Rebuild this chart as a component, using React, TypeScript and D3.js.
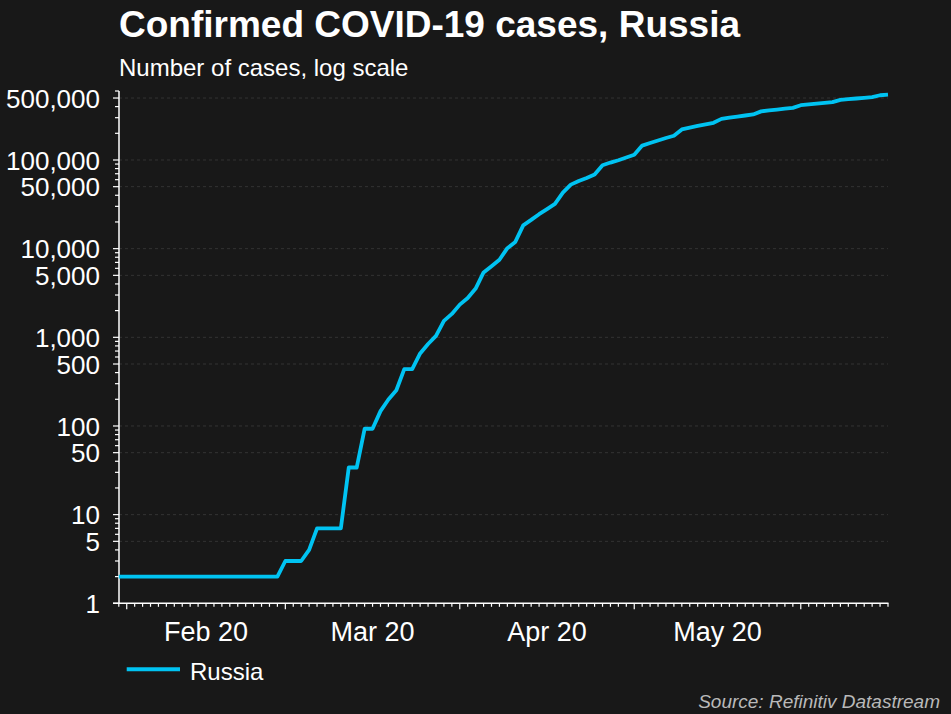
import React from "react";
import * as d3 from "d3";

// ---- data (business days starting 2020-01-31) ----
const startDate = "2020-01-31";
const russiaCases: number[] = [
  2, 2, 2, 2, 2, 2, 2, 2, 2, 2, 2, 2, 2, 2, 2, 2, 2, 2, 2, 2, 2,
  3, 3, 3, 4, 7, 7, 7, 7, 34, 34, 93, 93, 147, 199, 253, 438, 438, 658, 840, 1036,
  1534, 1836, 2337, 2777, 3548, 5389, 6343, 7497, 10131, 11917,
  18328, 21102, 24490, 27938, 32008, 42853, 52763, 57999, 62773, 68622,
  87147, 93558, 99399, 106498, 114431, 145268, 155370, 165929, 177160, 187859,
  221344, 232243, 242271, 252245, 262843, 290678, 299941, 308705, 317554, 326448,
  353427, 362342, 370680, 379051, 387623, 414878, 423741, 432277, 440538, 449256,
  476658, 485253, 493657, 502436, 511423, 537210, 545458,
];
const monthLabels = ["Feb 20", "Mar 20", "Apr 20", "May 20"];
const yLabelValues = [1, 5, 10, 50, 100, 500, 1000, 5000, 10000, 50000, 100000, 500000];
const seriesName = "Russia";
const title = "Confirmed COVID-19 cases, Russia";
const subtitle = "Number of cases, log scale";
const source = "Source: Refinitiv Datastream";

// business-day dates for each value
function businessDays(start: string, n: number): Date[] {
  const out: Date[] = [];
  const d = new Date(start + "T00:00:00");
  while (out.length < n) {
    const wd = d.getDay();
    if (wd !== 0 && wd !== 6) out.push(new Date(d));
    d.setDate(d.getDate() + 1);
  }
  return out;
}

const W = 951;
const H = 714;
const BG = "#181818";
const LINE = "#00c3f2";

export default function App() {
  const n = russiaCases.length;
  const dates = businessDays(startDate, n);
  const x = d3.scaleLinear().domain([0, n - 1]).range([118.8, 888]);
  const y = d3.scaleLog().domain([1, 600000]).range([603.3, 91]);

  const line = d3
    .line<number>()
    .x((_, i) => x(i))
    .y((v) => y(v));

  // month starts: first business day of each month
  const monthStarts: number[] = [];
  dates.forEach((d, i) => {
    if (i > 0 && d.getMonth() !== dates[i - 1].getMonth()) monthStarts.push(i);
  });

  // y ticks
  const yTicks: { v: number; major: boolean }[] = [];
  for (let k = 0; k <= 5; k++) {
    for (let m = 1; m <= 9; m++) {
      const v = m * Math.pow(10, k);
      if (v <= 600000) yTicks.push({ v, major: yLabelValues.includes(v) });
    }
  }
  const fmt = d3.format(",");
  const font = "'Liberation Sans', Arial, sans-serif";
  const axisX = 119;
  const axisY = 603.3;

  return (
    <svg
      width={W}
      height={H}
      style={{ position: "absolute", left: 0, top: 0, display: "block" }}
      fontFamily={font}
    >
      <rect x={0} y={0} width={W} height={H} fill={BG} />
      {/* grid */}
      {yLabelValues
        .filter((v) => v > 1)
        .map((v) => (
          <line
            key={"g" + v}
            x1={axisX}
            x2={888}
            y1={y(v)}
            y2={y(v)}
            stroke="#333333"
            strokeWidth={1}
            strokeDasharray="3,3"
          />
        ))}
      {/* y axis */}
      <line x1={axisX} x2={axisX} y1={91} y2={axisY} stroke="#fff" strokeWidth={1.5} />
      {yTicks.map((t) => (
        <line
          key={"yt" + t.v}
          x1={axisX - (t.major ? 6 : 4)}
          x2={axisX}
          y1={y(t.v)}
          y2={y(t.v)}
          stroke="#fff"
          strokeWidth={1.2}
        />
      ))}
      {yLabelValues.map((v) => (
        <text
          key={"yl" + v}
          x={100}
          y={y(v) + 9.7}
          textAnchor="end"
          fill="#fff"
          fontSize={26}
        >
          {fmt(v)}
        </text>
      ))}
      {/* x axis */}
      <line x1={113} x2={888.5} y1={axisY} y2={axisY} stroke="#fff" strokeWidth={1.5} />
      {russiaCases.map((_, i) => {
        const major = monthStarts.includes(i);
        return (
          <line
            key={"xt" + i}
            x1={x(i)}
            x2={x(i)}
            y1={axisY}
            y2={axisY + (major ? 6 : 3.5)}
            stroke="#fff"
            strokeWidth={1.2}
          />
        );
      })}
      {monthLabels.map((lab, j) => {
        const a = monthStarts[j];
        const b = monthStarts[j + 1] ?? n - 1;
        return (
          <text
            key={"xl" + lab}
            x={(x(a) + x(b)) / 2}
            y={641}
            textAnchor="middle"
            fill="#fff"
            fontSize={27}
          >
            {lab}
          </text>
        );
      })}
      {/* series */}
      <path
        d={line(russiaCases) || ""}
        fill="none"
        stroke={LINE}
        strokeWidth={3.8}
        strokeLinejoin="round"
        strokeLinecap="butt"
      />
      {/* titles */}
      <text x={119} y={37} fill="#fff" fontSize={37} fontWeight="bold">
        {title}
      </text>
      <text x={119} y={76} fill="#fff" fontSize={24}>
        {subtitle}
      </text>
      {/* legend */}
      <line x1={126.7} x2={180} y1={669.3} y2={669.3} stroke={LINE} strokeWidth={4} />
      <text x={190} y={680} fill="#fff" fontSize={24}>
        {seriesName}
      </text>
      {/* source */}
      <text
        x={940}
        y={708}
        textAnchor="end"
        fill="#b9b9b9"
        fontSize={19}
        fontStyle="italic"
      >
        {source}
      </text>
    </svg>
  );
}
